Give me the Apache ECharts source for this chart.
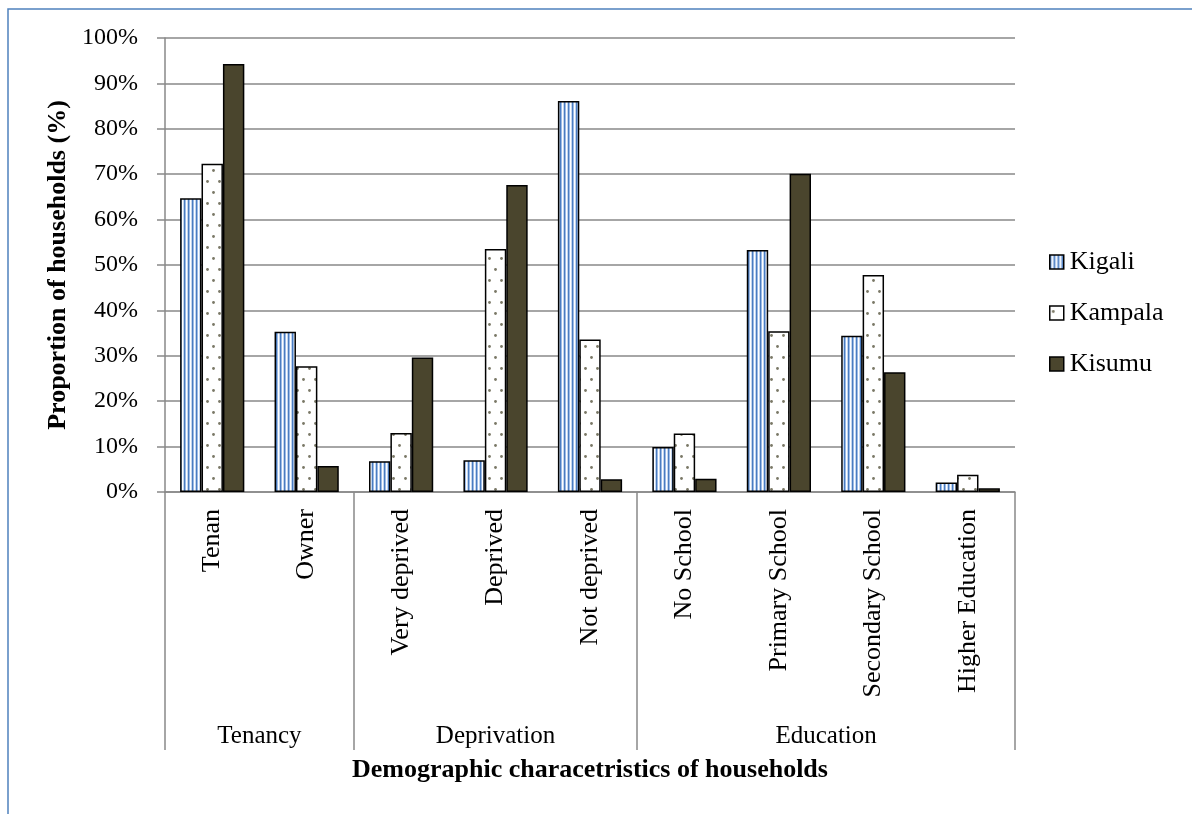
<!DOCTYPE html>
<html>
<head>
<meta charset="utf-8">
<script src="https://cdn.jsdelivr.net/npm/echarts@6/dist/echarts.min.js"></script>
<style>
  html, body { margin: 0; padding: 0; background: #fff; }
  #chart { width: 1192px; height: 814px; }
</style>
</head>
<body>
<div id="chart"></div>
<script>
// values, in percent
var categories = ['Tenan', 'Owner', 'Very deprived', 'Deprived', 'Not deprived',
                  'No School', 'Primary School', 'Secondary School', 'Higher Education'];
var kigali  = [64.7, 35.3, 6.8, 7.0, 86.1, 9.9, 53.3, 34.4, 2.1];
var kampala = [72.3, 27.7, 13.0, 53.5, 33.6, 12.9, 35.4, 47.8, 3.8];
var kisumu  = [94.3, 5.7, 29.6, 67.6, 2.8, 2.9, 70.1, 26.4, 0.8];
var groups = ['Tenancy', 'Deprivation', 'Education'];
var group_bounds = [0, 2, 5, 9];
var group_centres = [1, 3.5, 7];

var FONT = '"Liberation Serif", "Times New Roman", serif';

function stripe_pattern() {
    var c = document.createElement('canvas');
    c.width = 4; c.height = 4;
    var ctx = c.getContext('2d');
    var cols = ['#4a7cc0', '#9dbbe6', '#ffffff', '#c2d5ef'];
    cols.forEach((col, i) => {
        ctx.fillStyle = col;
        ctx.fillRect(i, 0, 1, 4);
    });
    return {image: c, repeat: 'repeat'};
}
function dot_pattern() {
    var c = document.createElement('canvas');
    c.width = 12; c.height = 22;
    var ctx = c.getContext('2d');
    ctx.fillStyle = '#ffffff';
    ctx.fillRect(0, 0, 12, 22);
    ctx.fillStyle = '#7a7866';
    ctx.beginPath(); ctx.arc(3.5, 5.5, 1.4, 0, Math.PI * 2); ctx.fill();
    ctx.beginPath(); ctx.arc(9.5, 16.5, 1.4, 0, Math.PI * 2); ctx.fill();
    return {image: c, repeat: 'repeat'};
}

var grey = '#898989';
var series = [
    {name: 'Kigali', data: kigali, fill: stripe_pattern()},
    {name: 'Kampala', data: kampala, fill: dot_pattern()},
    {name: 'Kisumu', data: kisumu, fill: '#4a452d'},
].map(s => ({
    name: s.name,
    type: 'bar',
    data: s.data,
    xAxisIndex: 0,
    barGap: '0%',
    barCategoryGap: '32%',
    itemStyle: {color: s.fill, borderColor: '#000', borderWidth: 1.5},
    emphasis: {disabled: true},
}));

var chart = echarts.init(document.getElementById('chart'), null, {renderer: 'canvas'});
chart.setOption({
    animation: false,
    textStyle: {fontFamily: FONT},
    grid: {left: 165, right: 177, top: 38, bottom: 322},
    graphic: [{
        type: 'rect', x: 0, y: 0,
        shape: {x: 8, y: 9, width: 1300, height: 900},
        style: {fill: 'none', stroke: '#4f81bd', lineWidth: 1.5},
        silent: true,
    }],
    legend: {
        orient: 'vertical',
        left: 1049, top: 249,
        padding: 0,
        itemWidth: 14, itemHeight: 14, itemGap: 25,
        icon: 'rect',
        textStyle: {fontFamily: FONT, fontSize: 26, color: '#000', padding: [0, 0, 0, 1]},
        itemStyle: {borderColor: '#000', borderWidth: 1.5},
    },
    xAxis: [{
        type: 'category',
        data: categories,
        axisLine: {lineStyle: {color: grey, width: 1.5}},
        axisTick: {show: false},
        axisLabel: {rotate: 90, fontFamily: FONT, fontSize: 26, color: '#000', margin: 17},
        name: 'Demographic characetristics of households',
        nameLocation: 'middle', nameGap: 265,
        nameTextStyle: {fontFamily: FONT, fontSize: 26, fontWeight: 'bold', color: '#000'},
    }, {
        type: 'value',
        position: 'bottom',
        min: 0, max: 9,
        axisLine: {show: false},
        splitLine: {show: false},
        axisTick: {show: true, customValues: group_bounds, length: 258,
                   lineStyle: {color: grey, width: 1.5}},
        axisLabel: {customValues: group_centres, margin: 232,
                    formatter: v => groups[group_centres.indexOf(v)],
                    fontFamily: FONT, fontSize: 25, color: '#000'},
    }],
    yAxis: {
        type: 'value',
        min: 0, max: 100, interval: 10,
        axisLine: {show: true, lineStyle: {color: grey, width: 1.5}},
        axisTick: {show: true, length: 8, lineStyle: {color: grey, width: 1.5}},
        splitLine: {lineStyle: {color: grey, width: 1.5}},
        axisLabel: {formatter: '{value}%', fontFamily: FONT, fontSize: 24, color: '#000', margin: 27},
        name: 'Proportion of households (%)',
        nameLocation: 'middle', nameGap: 92,
        nameTextStyle: {fontFamily: FONT, fontSize: 26, fontWeight: 'bold', color: '#000'},
    },
    series: series,
});
</script>
</body>
</html>
